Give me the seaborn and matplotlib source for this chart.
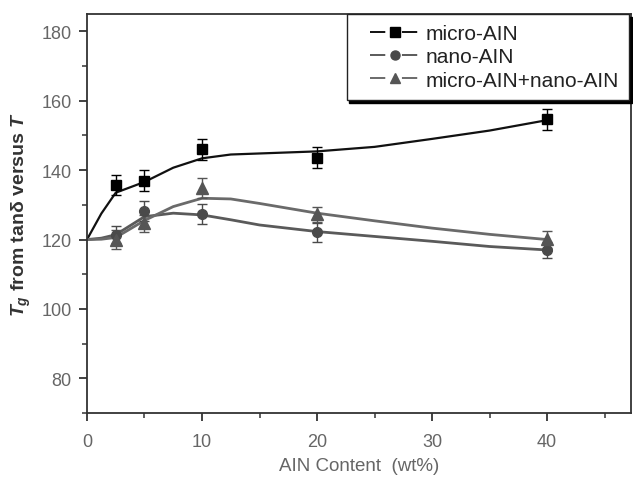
import matplotlib
matplotlib.use("Agg")
import matplotlib.pyplot as plt
from matplotlib.lines import Line2D
from matplotlib.legend_handler import HandlerLine2D
from matplotlib.ticker import MultipleLocator
import numpy as np
import pandas as pd
import seaborn as sns

# Measured Tg points (AlN content in wt%)
content = [2.5, 5, 10, 20, 40]
micro_tg = [135.6, 137.0, 146.0, 143.6, 154.6]
nano_tg = [121.4, 128.2, 127.3, 122.1, 117.0]
mixed_tg = [120.0, 124.7, 134.8, 127.3, 120.1]
micro_err = [2.9, 3.0, 3.0, 3.0, 3.0]
nano_err = [2.5, 2.8, 2.8, 2.8, 2.2]
mixed_err = [2.8, 2.5, 2.8, 2.2, 2.5]

# Smoothed trend curves
curve_x = [0, 1.25, 2.5, 5, 7.5, 10, 12.5, 15, 20, 25, 30, 35, 40]
micro_curve = [120.0, 127.5, 133.5, 136.6, 140.7, 143.4, 144.5, 144.8, 145.4, 146.7, 149.0, 151.4, 154.4]
nano_curve = [120.0, 120.4, 121.4, 126.6, 127.6, 127.1, 125.7, 124.2, 122.3, 120.9, 119.5, 118.0, 117.0]
mixed_curve = [120.0, 120.1, 120.6, 125.5, 129.5, 131.9, 131.7, 130.4, 127.6, 125.4, 123.3, 121.5, 120.0]

labels = ["micro-AIN", "nano-AIN", "micro-AIN+nano-AIN"]
line_colors = ["#111111", "#5a5a5a", "#6a6a6a"]
marker_colors = ["#000000", "#4a4a4a", "#555555"]
markers = ["s", "o", "^"]

sns.set_style("white")
plt.rcParams["font.family"] = ["Liberation Sans", "DejaVu Sans"]
plt.rcParams["mathtext.fontset"] = "custom"
plt.rcParams["mathtext.it"] = "Liberation Sans:italic:bold"
plt.rcParams["mathtext.rm"] = "Liberation Sans:bold"
plt.rcParams["lines.scale_dashes"] = False

fig = plt.figure(figsize=(6.33, 4.81), dpi=100)
ax = fig.add_axes([0.1374, 0.139, 0.8596, 0.830])

curves = pd.DataFrame({
    "x": curve_x * 3,
    "y": micro_curve + nano_curve + mixed_curve,
    "series": [labels[0]] * len(curve_x) + [labels[1]] * len(curve_x) + [labels[2]] * len(curve_x),
})
sns.lineplot(data=curves, x="x", y="y", hue="series", palette=dict(zip(labels, line_colors)),
             ax=ax, legend=False, estimator=None, sort=False)
for ln, lw in zip(ax.lines, [1.6, 2.0, 2.0]):
    ln.set_linewidth(lw)

for vals, errs, mk, mc in zip([micro_tg, nano_tg, mixed_tg], [micro_err, nano_err, mixed_err],
                              markers, marker_colors):
    ax.errorbar(content, vals, yerr=errs, fmt=mk, color=mc, ms=7 if mk != "^" else 8.5,
                ecolor=mc, elinewidth=1.0, capsize=3.5, capthick=1.0, zorder=3)

ax.set_xlim(0, 47.3)
ax.set_ylim(70, 185)
ax.xaxis.set_major_locator(MultipleLocator(10))
ax.xaxis.set_minor_locator(MultipleLocator(5))
ax.yaxis.set_minor_locator(MultipleLocator(10))
ax.set_yticks([80, 100, 120, 140, 160, 180])
ax.tick_params(which="major", direction="out", length=6, width=1.3, colors="#333333",
               labelcolor="#666666", labelsize=13, bottom=True, left=True, pad=5)
ax.tick_params(axis="x", which="major", pad=8)
ax.tick_params(which="minor", direction="out", length=3.5, width=1.1, colors="#333333",
               bottom=True, left=True)
for sp in ax.spines.values():
    sp.set_color("#333333")
    sp.set_linewidth(1.3)

ax.set_xlabel("AIN Content  (wt%)", fontsize=13.5, color="#666666", labelpad=5)
ax.set_ylabel(r"$T_g$ from tanδ versus $T$", fontsize=14, color="#333333",
              fontweight="bold", labelpad=6)

handles = [Line2D([0], [0], color=c, marker=m, ms=6.5, lw=1.4, markerfacecolor=mc,
                  markeredgecolor=mc, dashes=(11, 12))
           for c, m, mc in zip(line_colors, markers, marker_colors)]
leg = ax.legend(handles, labels, loc="upper right", bbox_to_anchor=(0.997, 1.0),
                borderaxespad=0, fancybox=False, framealpha=1, edgecolor="#222222",
                shadow={"color": "black", "alpha": 1.0}, fontsize=15,
                handlelength=3.05, handletextpad=0.25, labelspacing=0.2, borderpad=0.5,
                handler_map={Line2D: HandlerLine2D(xpad=0.65)})
leg.get_frame().set_linewidth(1.0)
for t in leg.get_texts():
    t.set_color("#222222")

fig.savefig("out.png", dpi=100)
